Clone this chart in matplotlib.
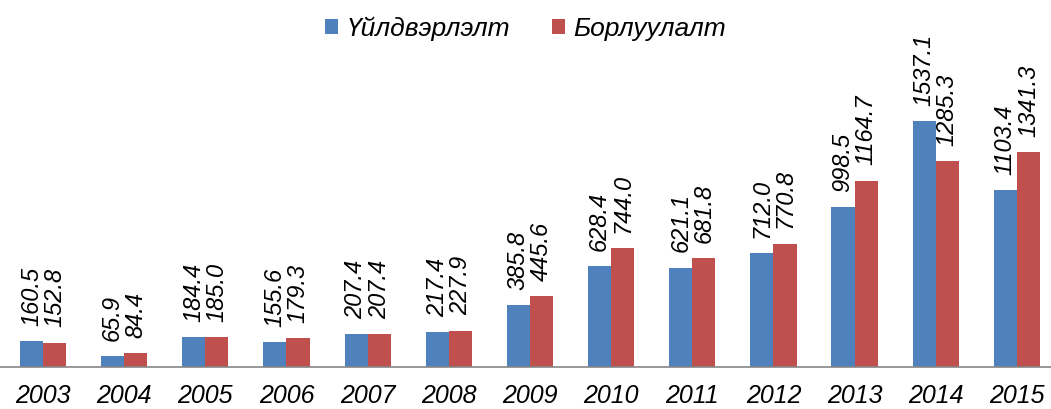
import matplotlib
import numpy as np

matplotlib.use("Agg")

import matplotlib.pyplot as plt  # noqa: E402

plt.rcParams["font.family"] = ["Liberation Sans", "DejaVu Sans"]

years = ["2003", "2004", "2005", "2006", "2007", "2008", "2009",
         "2010", "2011", "2012", "2013", "2014", "2015"]
production = [160.5, 65.9, 184.4, 155.6, 207.4, 217.4, 385.8,
              628.4, 621.1, 712.0, 998.5, 1537.1, 1103.4]
sales = [152.8, 84.4, 185.0, 179.3, 207.4, 227.9, 445.6,
         744.0, 681.8, 770.8, 1164.7, 1285.3, 1341.3]
series_names = ["Үйлдвэрлэлт", "Борлуулалт"]

BLUE = "#4F81BD"
RED = "#C0504D"
W = 0.285

fig = plt.figure(figsize=(10.51, 4.09), dpi=100)
ax = fig.add_axes([0, 42 / 409, 1, 367 / 409])

x = np.arange(len(years))
b1 = ax.bar(x - W / 2, production, W, color=BLUE, label=series_names[0])
b2 = ax.bar(x + W / 2, sales, W, color=RED, label=series_names[1])

for bars, vals in ((b1, production), (b2, sales)):
    for rect, v in zip(bars, vals):
        ax.text(rect.get_x() + rect.get_width() / 2, v + 95, f"{v:.1f}",
                rotation=90, ha="center", va="bottom", fontsize=17,
                style="italic")

ax.set_xlim(-0.53, 12.42)
ax.set_ylim(0, 2294)
ax.set_xticks(x)
ax.set_xticklabels(years, fontsize=18, style="italic")
ax.tick_params(axis="x", length=0, pad=12)
ax.set_yticks([])
for s in ("top", "left", "right"):
    ax.spines[s].set_visible(False)
ax.spines["bottom"].set_color("#868686")
ax.spines["bottom"].set_linewidth(1.2)

leg = ax.legend(loc="upper center", bbox_to_anchor=(0.5, 1.02), ncol=2,
                frameon=False, prop={"size": 19, "style": "italic"},
                handlelength=0.5, handleheight=0.5, handletextpad=0.3,
                columnspacing=1.6)

fig.savefig("out.png", dpi=100, facecolor="white")
